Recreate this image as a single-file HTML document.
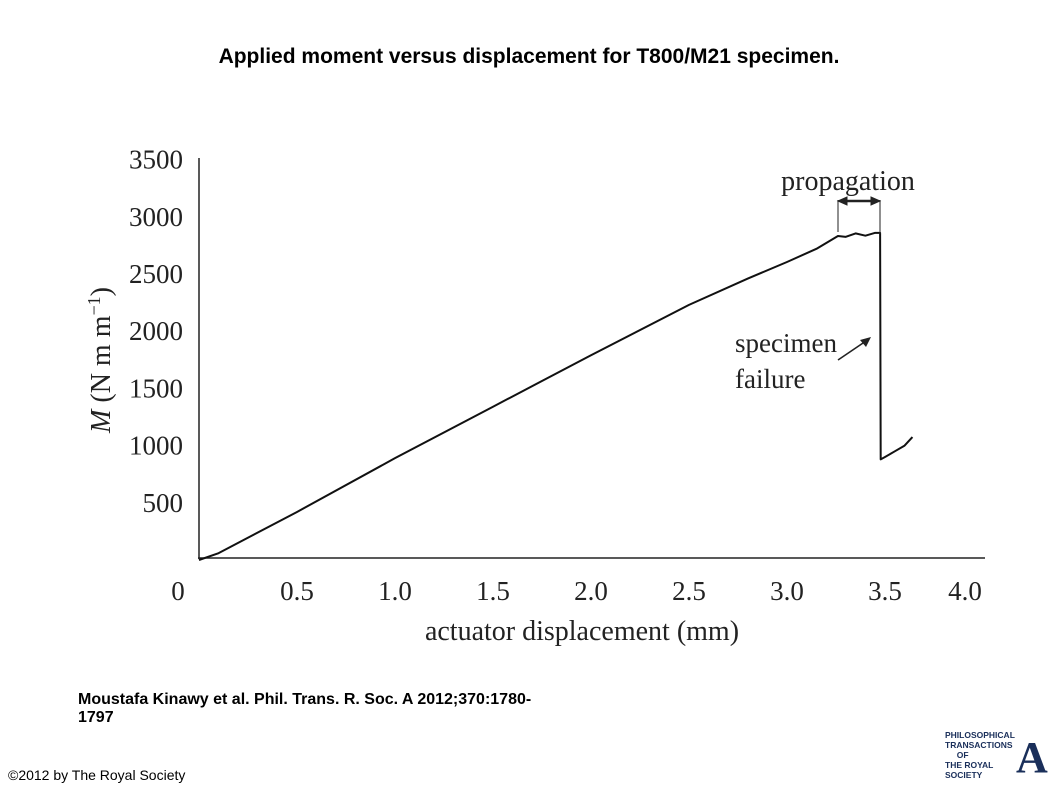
<!DOCTYPE html>
<html><head><meta charset="utf-8"><style>
body{margin:0;width:1058px;height:793px;background:#fff;position:relative;overflow:hidden;font-family:"Liberation Sans",sans-serif}
.t{position:absolute}
</style></head><body>
<div class="t" style="left:0;width:1058px;top:45px;text-align:center;font-weight:bold;font-size:21px">Applied moment versus displacement for T800/M21 specimen.</div>
<svg class="t" style="left:0;top:0" width="1058" height="793">
<g id="axes" font-family="Liberation Serif, serif" font-size="27" fill="#222"></g>
<polyline id="series" fill="none" stroke="#111" stroke-width="2" stroke-linejoin="round"/>
<text transform="translate(110,360) rotate(-90)" text-anchor="middle" font-family="Liberation Serif, serif" font-size="28" fill="#222"><tspan font-style="italic">M</tspan> (N m m<tspan font-size="18" dy="-10">−1</tspan><tspan dy="10">)</tspan></text>
<text x="582" y="640" text-anchor="middle" font-family="Liberation Serif, serif" font-size="28" fill="#222">actuator displacement (mm)</text>
<text x="848" y="190" text-anchor="middle" font-family="Liberation Serif, serif" font-size="28" fill="#222">propagation</text>
<g stroke="#222" fill="#222">
<line x1="838" y1="200" x2="838" y2="232" stroke-width="1"/><line x1="880" y1="200" x2="880" y2="234" stroke-width="1"/>
<line x1="843" y1="201" x2="875" y2="201" stroke-width="2.5"/>
<polygon points="838,201 847,197 847,205"/><polygon points="880,201 871,197 871,205"/></g>
<text font-family="Liberation Serif, serif" font-size="27" fill="#222"><tspan x="735" y="352">specimen</tspan><tspan x="735" y="388">failure</tspan></text>
<g><line x1="838" y1="360" x2="866" y2="341" stroke="#222" stroke-width="1.6"/><polygon points="871,337 860,340 866,347" fill="#222"/></g>
</svg>
<div class="t" style="left:78px;top:691px;font-weight:bold;font-size:16px;line-height:18px">Moustafa Kinawy et al. Phil. Trans. R. Soc. A 2012;370:1780-<br>1797</div>
<div class="t" style="left:8px;top:767px;font-size:14px">©2012 by The Royal Society</div>
<div class="t" style="left:945px;top:730px;width:76px;font-weight:bold;font-size:8.5px;line-height:10px;color:#1a2f5a">PHILOSOPHICAL<br>TRANSACTIONS<br>&nbsp;&nbsp;&nbsp;&nbsp;&nbsp;OF<br>THE ROYAL<br>SOCIETY</div>
<div class="t" style="left:1016px;top:738px;font-family:'Liberation Serif',serif;font-weight:bold;font-size:44px;color:#1a2f5a;line-height:40px">A</div>
<script>
const xTicks=[0,0.5,1.0,1.5,2.0,2.5,3.0,3.5,4.0];
const xTickLabels=["0","0.5","1.0","1.5","2.0","2.5","3.0","3.5","4.0"];
const yTicks=[500,1000,1500,2000,2500,3000,3500];
const yTickLabels=["500","1000","1500","2000","2500","3000","3500"];
const dispX=[0,0.1,0.5,1.0,1.5,2.0,2.5,2.8,3.0,3.15,3.26,3.3,3.35,3.4,3.45,3.475,3.478,3.5,3.55,3.6,3.64];
const momentY=[0,60,420,890,1340,1790,2230,2460,2605,2720,2832,2825,2855,2835,2860,2860,880,900,950,1000,1075];
const x=v=>199+v*196, y=v=>560-v*0.1144;
const ax=document.getElementById('axes');
const NS='http://www.w3.org/2000/svg';
function el(t,a){const e=document.createElementNS(NS,t);for(const k in a)e.setAttribute(k,a[k]);ax.appendChild(e);return e;}
let l=el('line',{x1:199,y1:158,x2:199,y2:559,stroke:'#222','stroke-width':1.5});


l=el('line',{x1:198,y1:558,x2:985,y2:558,stroke:'#222','stroke-width':1.5});


xTicks.forEach((v,i)=>{const t=el('text',{x:(i==0?178:x(v)-(i==8?18:0)),y:600,'text-anchor':'middle'});t.textContent=xTickLabels[i];

});
yTicks.forEach((v,i)=>{const t=el('text',{x:183,y:y(v)+9,'text-anchor':'end'});t.textContent=yTickLabels[i];

});
document.getElementById('series').setAttribute('points',dispX.map((v,i)=>x(v)+','+y(momentY[i])).join(' '));
</script>
</body></html>
